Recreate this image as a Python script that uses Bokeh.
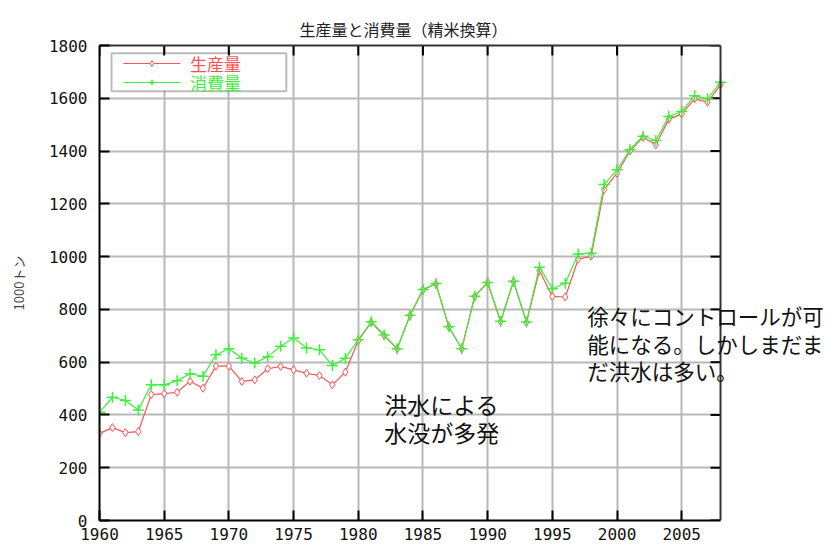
from bokeh.plotting import figure
from bokeh.models import (Range1d, SingleIntervalTicker, FixedTicker, LinearAxis, Legend,
                          LegendItem, Label, ColumnDataSource, BoxAnnotation, Span)
from bokeh.embed import file_html
from bokeh.resources import INLINE
import math

years = list(range(1960, 2009))
production = [330, 352, 333, 337, 477, 481, 486, 528, 501, 585,
              585, 527, 533, 575, 584, 571, 558, 549, 514, 562,
              682, 751, 701, 651, 777, 874, 897, 733, 651, 849,
              901, 754, 906, 751, 947, 849, 847, 990, 1002, 1254,
              1316, 1400, 1452, 1424, 1520, 1541, 1598, 1585, 1651]
consumption = [410, 467, 455, 419, 514, 514, 530, 556, 547, 628,
               651, 615, 597, 621, 660, 692, 654, 647, 587, 615,
               685, 753, 703, 651, 778, 875, 898, 734, 651, 850,
               902, 755, 907, 752, 960, 878, 899, 1010, 1013, 1273,
               1329, 1405, 1456, 1440, 1531, 1550, 1610, 1598, 1661]
x_ticks = [1960, 1965, 1970, 1975, 1980, 1985, 1990, 1995, 2000, 2005]
y_ticks = [0, 200, 400, 600, 800, 1000, 1200, 1400, 1600, 1800]

title_text = "生産量と消費量（精米換算）"
y_label = "1000トン"
series_names = ["生産量", "消費量"]
note1 = ["洪水による", "水没が多発"]
note2 = ["徐々にコントロールが可", "能になる。しかしまだま", "だ洪水は多い。"]

RED = "#ff5252"
GREEN = "#3cf03c"
CJK = "Noto Sans CJK JP"
MONO = "DejaVu Sans Mono"

X0, X1 = years[0], years[-1]
Y0, Y1 = y_ticks[0], y_ticks[-1]
# frame is extended to the right so that the annotation text is not clipped;
# the plot box visually ends at X1
src = ColumnDataSource(dict(year=years, prod=production, cons=consumption))

p = figure(width=830, height=548, output_backend="svg", toolbar_location=None,
           x_range=Range1d(X0, 2016.5), y_range=Range1d(Y0, Y1),
           min_border_left=99, min_border_right=0, min_border_top=45, min_border_bottom=28,
           title=title_text)
p.title.align = "left"
p.title.offset = 200
p.title.text_font = CJK
p.title.text_font_size = "16px"
p.title.text_font_style = "normal"
p.title.text_color = "#222222"

p.xaxis.ticker = FixedTicker(ticks=x_ticks)
p.yaxis.ticker = FixedTicker(ticks=y_ticks)
p.xaxis.bounds = (X0, X1)
for ax in (p.xaxis, p.yaxis):
    ax.major_tick_in = 10
    ax.major_tick_out = 0
    ax.minor_tick_in = 0
    ax.minor_tick_out = 0
    ax.major_tick_line_color = "black"
    ax.major_tick_line_width = 2
    ax.axis_line_color = "black"
    ax.axis_line_width = 2
    ax.major_label_text_font = MONO
    ax.major_label_text_font_size = "16px"
    ax.major_label_text_color = "#111111"
p.xaxis.major_label_standoff = 7
p.yaxis.major_label_standoff = 12
p.yaxis.axis_label = y_label
p.yaxis.axis_label_text_font = CJK
p.yaxis.axis_label_text_font_size = "13px"
p.yaxis.axis_label_text_font_style = "normal"
p.yaxis.axis_label_standoff = 18

top = LinearAxis(ticker=FixedTicker(ticks=[]), bounds=(X0, X1))
top.major_tick_in = 0
top.major_tick_out = 0
top.minor_tick_in = 0
top.minor_tick_out = 0
top.axis_line_color = "#333333"
top.axis_line_width = 2
top.major_label_standoff = 0
p.add_layout(top, "above")

p.outline_line_color = None
p.grid.grid_line_color = "#b8b8b8"
p.grid.grid_line_width = 2
p.xgrid.bounds = (X0, X1)

# blank out the area right of the plot box
p.add_layout(BoxAnnotation(left=X1, fill_color="white", fill_alpha=1,
                           line_color=None, level="underlay"))
# right border of the plot box with inward ticks, and inward ticks on the top edge
p.add_layout(Span(location=X1, dimension="height", line_color="#333333", line_width=2))
p.ray(x=[X1] * len(y_ticks), y=y_ticks, length=10, length_units="screen",
      angle=math.pi, line_color="black", line_width=2)
p.ray(x=x_ticks, y=[Y1] * len(x_ticks), length=10, length_units="screen",
      angle=-math.pi / 2, line_color="black", line_width=2)

# legend frame (white box with black border)
p.add_layout(BoxAnnotation(left=1960.93, right=1974.44, bottom=1627, top=1771,
                           fill_color="white", fill_alpha=1, line_color="#222222",
                           line_width=2, level="underlay"))

r_line = p.line("year", "prod", source=src, color=RED, line_width=1.2)
r_pts = p.scatter("year", "prod", source=src, marker="diamond", size=8,
                  line_color=RED, fill_color="white", line_width=1)
g_line = p.line("year", "cons", source=src, color=GREEN, line_width=1.2)
g_pts = p.scatter("year", "cons", source=src, marker="cross", size=11,
                  line_color=GREEN, line_width=1.5)

legend = Legend(items=[LegendItem(label=series_names[0], renderers=[r_line, r_pts]),
                       LegendItem(label=series_names[1], renderers=[g_line, g_pts])],
                location=(24, 431), padding=0, spacing=5, margin=0,
                glyph_width=57, glyph_height=14, label_height=14, label_width=20,
                label_standoff=10, label_text_alpha=0, label_text_font_size="9px",
                border_line_color=None, background_fill_alpha=0)
p.add_layout(legend)

for name, color, yv in ((series_names[0], RED, 1732), (series_names[1], GREEN, 1660)):
    p.add_layout(Label(x=1967.0, y=yv, text=name, text_color=color, text_font=CJK,
                       text_font_size="17px", text_baseline="middle", level="overlay"))

for i, t in enumerate(note1):
    p.add_layout(Label(x=1982.0, y=443 - i * 106, text=t,
                       text_font=CJK, text_font_size="23px", text_color="#111111",
                       text_baseline="middle", level="overlay"))
for i, t in enumerate(note2):
    p.add_layout(Label(x=1997.7, y=775 - i * 104, text=t,
                       text_font=CJK, text_font_size="21.5px", text_color="#111111",
                       text_baseline="middle", level="overlay"))

open("out.html", "w").write(file_html(p, INLINE))
